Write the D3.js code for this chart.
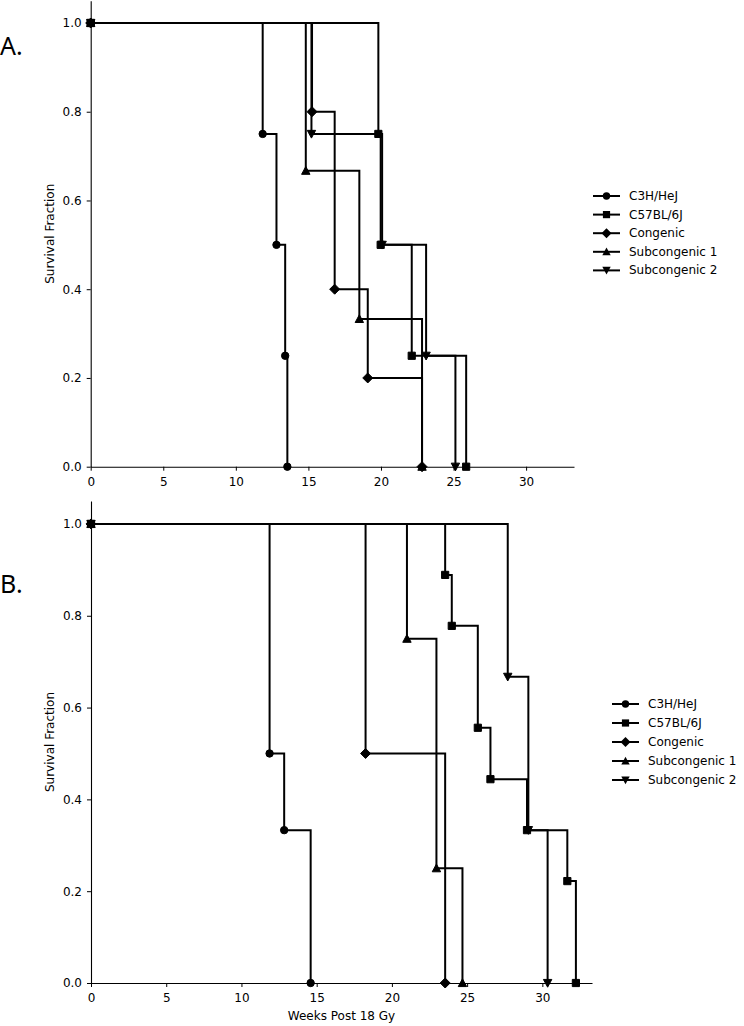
<!DOCTYPE html>
<html>
<head>
<meta charset="utf-8">
<script src="https://cdn.jsdelivr.net/npm/d3@7"></script>
<style>
  html, body { margin: 0; padding: 0; background: #fff; }
  svg { display: block; }
  text { font-family: "DejaVu Sans", sans-serif; fill: #000; }
</style>
</head>
<body>
<svg id="chart" width="744" height="1026"></svg>
<script>
// ---------- DATA ----------
const seriesNames = ["C3H/HeJ", "C57BL/6J", "Congenic", "Subcongenic 1", "Subcongenic 2"];
const markerTypes = ["circle", "square", "diamond", "triUp", "triDown"];
const xTicks = [0, 5, 10, 15, 20, 25, 30];
const yTicks = [0.0, 0.2, 0.4, 0.6, 0.8, 1.0];

// Panel A (time in weeks, survival fraction)
const aC3H_t = [0, 11.85, 12.8, 13.4, 13.55];
const aC3H_s = [1, 0.75, 0.5, 0.25, 0];
const aC57_t = [0, 19.82, 19.98, 22.12, 25.87];
const aC57_s = [1, 0.75, 0.5, 0.25, 0];
const aCon_t = [0, 15.25, 16.81, 19.09, 22.83];
const aCon_s = [1, 0.8, 0.4, 0.2, 0];
const aSub1_t = [0, 14.82, 18.51, 22.83];
const aSub1_s = [1, 0.667, 0.333, 0];
const aSub2_t = [0, 15.21, 20.08, 23.11, 25.13];
const aSub2_s = [1, 0.75, 0.5, 0.25, 0];

// Panel B
const bC3H_t = [0, 11.87, 12.84, 14.6];
const bC3H_s = [1, 0.5, 0.333, 0];
const bC57_t = [0, 23.54, 23.98, 25.71, 26.55, 28.98, 31.66, 32.23];
const bC57_s = [1, 0.889, 0.778, 0.556, 0.444, 0.333, 0.222, 0];
const bCon_t = [0, 18.25, 23.54];
const bCon_s = [1, 0.5, 0];
const bSub1_t = [0, 21.0, 22.96, 24.69];
const bSub1_s = [1, 0.75, 0.25, 0];
const bSub2_t = [0, 27.7, 29.07, 30.35];
const bSub2_s = [1, 0.667, 0.333, 0];

const panelA = [[aC3H_t, aC3H_s], [aC57_t, aC57_s], [aCon_t, aCon_s], [aSub1_t, aSub1_s], [aSub2_t, aSub2_s]];
const panelB = [[bC3H_t, bC3H_s], [bC57_t, bC57_s], [bCon_t, bCon_s], [bSub1_t, bSub1_s], [bSub2_t, bSub2_s]];

// ---------- DRAWING ----------
const svg = d3.select("#chart");

function markerPath(type) {
  const h = 4.2;
  const p = d3.path();
  if (type === "circle") {
    p.arc(0, 0, 3.7, 0, 2 * Math.PI);
  } else if (type === "square") {
    p.rect(-3.6, -3.6, 7.2, 7.2);
  } else if (type === "diamond") {
    p.moveTo(0, -5); p.lineTo(5, 0); p.lineTo(0, 5); p.lineTo(-5, 0); p.closePath();
  } else if (type === "triUp") {
    p.moveTo(0, -h); p.lineTo(h, h * 0.85); p.lineTo(-h, h * 0.85); p.closePath();
  } else {
    p.moveTo(0, h); p.lineTo(h, -h * 0.85); p.lineTo(-h, -h * 0.85); p.closePath();
  }
  return p.toString();
}

function drawPanel(cfg) {
  const x = d3.scaleLinear().domain([0, 33.3]).range([cfg.left, cfg.right]);
  const y = d3.scaleLinear().domain([0, 1.05]).range([cfg.bottom, cfg.top]);
  const g = svg.append("g");

  // axes
  const ya = g.append("g").attr("transform", `translate(${cfg.left},0)`)
    .call(d3.axisLeft(y).tickValues(yTicks).tickFormat(d3.format(".1f")).tickSize(4).tickPadding(5).tickSizeOuter(0));
  const xa = g.append("g").attr("transform", `translate(0,${cfg.bottom})`)
    .call(d3.axisBottom(x).tickValues(xTicks).tickFormat(d3.format("d")).tickSize(4).tickPadding(6.5).tickSizeOuter(0));
  [ya, xa].forEach(a => {
    a.selectAll("text").style("font-family", "DejaVu Sans").style("font-size", "12px").attr("fill", "#000");
    a.selectAll("line").attr("stroke", "#000").attr("stroke-width", 1);
    a.select(".domain").attr("stroke", "#000").attr("stroke-width", 1.1);
  });

  // y label
  g.append("text")
    .attr("transform", `translate(50,${(cfg.top + cfg.bottom) / 2}) rotate(-90)`)
    .attr("text-anchor", "middle").attr("dominant-baseline", "central")
    .style("font-size", "12px").text("Survival Fraction");

  // series
  const line = d3.line().curve(d3.curveStepAfter).x(d => x(d[0])).y(d => y(d[1]));
  cfg.data.forEach((ser, i) => {
    const pts = ser[0].map((t, j) => [t, ser[1][j]]);
    const sg = g.append("g");
    sg.append("path").datum(pts).attr("d", line)
      .attr("fill", "none").attr("stroke", "#000").attr("stroke-width", 2);
    sg.selectAll("path.m").data(pts).enter().append("path").attr("class", "m")
      .attr("d", markerPath(markerTypes[i]))
      .attr("transform", d => `translate(${x(d[0])},${y(d[1])})`)
      .attr("fill", "#000").attr("stroke", "#000").attr("stroke-width", 1);
  });

  // legend
  const lg = g.append("g");
  seriesNames.forEach((name, i) => {
    const yy = cfg.legY + i * cfg.legStep;
    lg.append("line").attr("x1", cfg.legX).attr("x2", cfg.legX + 27).attr("y1", yy).attr("y2", yy)
      .attr("stroke", "#000").attr("stroke-width", 2);
    lg.append("path").attr("d", markerPath(markerTypes[i]))
      .attr("transform", `translate(${cfg.legX + 13.5},${yy})`).attr("fill", "#000");
    lg.append("text").attr("x", cfg.legX + 36).attr("y", yy).attr("dominant-baseline", "central")
      .style("font-size", "12px").text(name);
  });

  // panel letter
  svg.append("text").attr("x", 0).attr("y", cfg.letterY)
    .style("font-family", "'Noto Sans', 'Open Sans', sans-serif").style("font-size", "25px")
    .text(cfg.letter);
  return x;
}

drawPanel({ data: panelA, left: 90.7, right: 574, top: 0.8, bottom: 466.7,
            legX: 593, legY: 196, legStep: 18.6, letter: "A.", letterY: 55 });
drawPanel({ data: panelB, left: 91, right: 592, top: 501, bottom: 983,
            legX: 612, legY: 704, legStep: 19, letter: "B.", letterY: 593 });

svg.append("text").attr("x", (91 + 592) / 2).attr("y", 1020)
  .attr("text-anchor", "middle").style("font-size", "12px").text("Weeks Post 18 Gy");
</script>
</body>
</html>
